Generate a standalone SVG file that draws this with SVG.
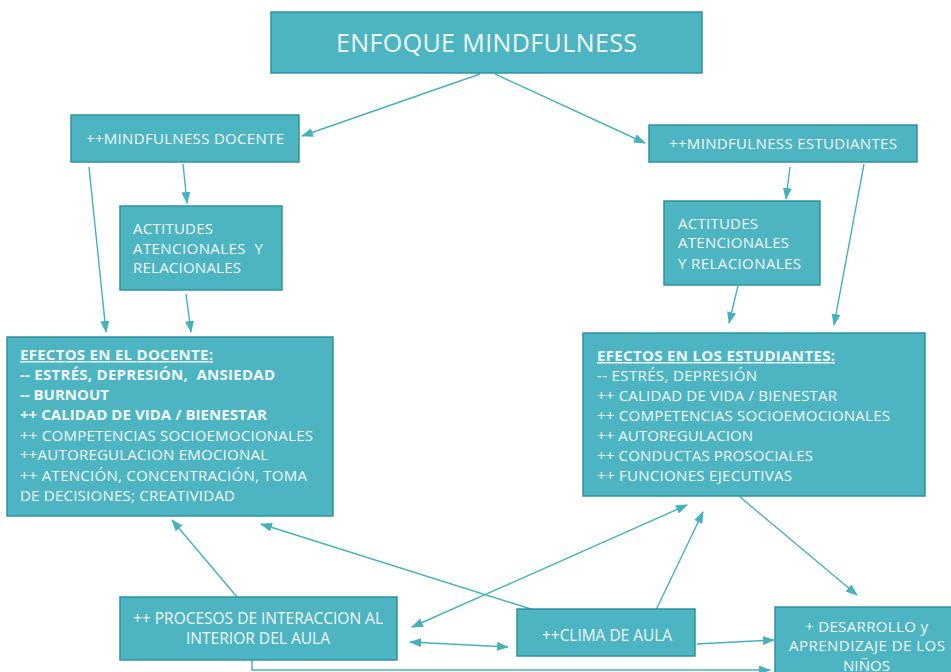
<svg xmlns="http://www.w3.org/2000/svg" width="951" height="672" viewBox="0 0 951 672">
<style>
.box{fill:#4db5c2;stroke:#2f93a0;stroke-width:1.5}
.t{font-family:"Open Sans","Liberation Sans",sans-serif;fill:#f2f7f8;font-size:15px}
.big{font-size:25px}
.cond{font-size:16px}
.b{font-weight:bold}
.con{stroke:#45b1bf;stroke-width:1.4;fill:none}
</style>
<defs>
<marker id="ah" markerUnits="userSpaceOnUse" markerWidth="12" markerHeight="10" refX="11" refY="4.5" orient="auto-start-reverse">
<path d="M0,0 L12,4.5 L0,9 z" fill="#45b1bf"/>
</marker>
</defs>
<rect width="951" height="672" fill="#ffffff"/>
<g id="connectors">
<line class="con" x1="480" y1="74" x2="302" y2="136" marker-end="url(#ah)"/>
<line class="con" x1="495" y1="74" x2="645" y2="143" marker-end="url(#ah)"/>
<line class="con" x1="183" y1="164" x2="187" y2="203" marker-end="url(#ah)"/>
<line class="con" x1="89" y1="167" x2="106" y2="332" marker-end="url(#ah)"/>
<line class="con" x1="790" y1="167" x2="786" y2="199" marker-end="url(#ah)"/>
<line class="con" x1="864" y1="164" x2="834" y2="325" marker-end="url(#ah)"/>
<line class="con" x1="186" y1="294" x2="191" y2="332" marker-end="url(#ah)"/>
<line class="con" x1="738" y1="286" x2="729" y2="323" marker-end="url(#ah)"/>
<line class="con" x1="237" y1="597" x2="172" y2="520" marker-end="url(#ah)"/>
<line class="con" x1="534" y1="610" x2="261" y2="524" marker-end="url(#ah)"/>
<line class="con" x1="412" y1="627" x2="687" y2="505" marker-start="url(#ah)" marker-end="url(#ah)"/>
<line class="con" x1="656" y1="610" x2="703" y2="512" marker-end="url(#ah)"/>
<line class="con" x1="410" y1="642" x2="508" y2="647" marker-start="url(#ah)" marker-end="url(#ah)"/>
<line class="con" x1="697" y1="644" x2="774" y2="640" marker-end="url(#ah)"/>
<line class="con" x1="740" y1="497" x2="857" y2="595" marker-end="url(#ah)"/>
<polyline class="con" points="252,660 252,670 770,670" marker-end="url(#ah)"/>
</g>
<g id="enfoque">
<rect class="box" x="271" y="12" width="431" height="61"/>
<text class="t big" x="336" y="52" textLength="301">ENFOQUE MINDFULNESS</text>
</g>
<g id="mindfulness-docente">
<rect class="box" x="71" y="115" width="228" height="47"/>
<text class="t" x="86" y="144" textLength="198">++MINDFULNESS DOCENTE</text>
</g>
<g id="mindfulness-estudiantes">
<rect class="box" x="649" y="125" width="268" height="37"/>
<text class="t" x="669" y="149" textLength="228">++MINDFULNESS ESTUDIANTES</text>
</g>
<g id="actitudes-docente">
<rect class="box" x="120" y="206" width="162" height="84"/>
<text class="t" x="133" y="234" textLength="80">ACTITUDES</text>
<text class="t" x="133" y="254" textLength="130" xml:space="preserve">ATENCIONALES  Y</text>
<text class="t" x="133" y="273" textLength="108">RELACIONALES</text>
</g>
<g id="actitudes-estudiantes">
<rect class="box" x="664" y="201" width="156" height="84"/>
<text class="t" x="678" y="229" textLength="80">ACTITUDES</text>
<text class="t" x="678" y="248" textLength="111">ATENCIONALES</text>
<text class="t" x="678" y="269" textLength="123">Y RELACIONALES</text>
</g>
<g id="efectos-docente">
<rect class="box" x="7" y="337" width="326" height="179"/>
<text class="t b" x="20" y="360" textLength="193" text-decoration="underline">EFECTOS EN EL DOCENTE:</text>
<text class="t b" x="20" y="380" textLength="255" xml:space="preserve">-- ESTRÉS, DEPRESIÓN,  ANSIEDAD</text>
<text class="t b" x="20" y="400" textLength="89">-- BURNOUT</text>
<text class="t b" x="20" y="420" textLength="247">++ CALIDAD DE VIDA / BIENESTAR</text>
<text class="t" x="20" y="441" textLength="293">++ COMPETENCIAS SOCIOEMOCIONALES</text>
<text class="t" x="20" y="460" textLength="248">++AUTOREGULACION EMOCIONAL</text>
<text class="t" x="20" y="481" textLength="287">++ ATENCIÓN, CONCENTRACIÓN, TOMA</text>
<text class="t" x="20" y="501" textLength="215">DE DECISIONES; CREATIVIDAD</text>
</g>
<g id="efectos-estudiantes">
<rect class="box" x="583" y="333" width="342" height="163"/>
<text class="t b" x="597" y="361" textLength="238" text-decoration="underline">EFECTOS EN LOS ESTUDIANTES:</text>
<text class="t" x="597" y="381" textLength="160">-- ESTRÉS, DEPRESIÓN</text>
<text class="t" x="597" y="401" textLength="240">++ CALIDAD DE VIDA / BIENESTAR</text>
<text class="t" x="597" y="421" textLength="293">++ COMPETENCIAS SOCIOEMOCIONALES</text>
<text class="t" x="597" y="441" textLength="156">++ AUTOREGULACION</text>
<text class="t" x="597" y="461" textLength="216">++ CONDUCTAS PROSOCIALES</text>
<text class="t" x="597" y="481" textLength="195">++ FUNCIONES EJECUTIVAS</text>
</g>
<g id="procesos">
<rect class="box" x="120" y="597" width="277" height="63"/>
<text class="t cond" x="133" y="624" textLength="250" lengthAdjust="spacingAndGlyphs">++ PROCESOS DE INTERACCION AL</text>
<text class="t cond" x="186" y="644" textLength="144" lengthAdjust="spacingAndGlyphs">INTERIOR DEL AULA</text>
</g>
<g id="clima">
<rect class="box" x="517" y="609" width="178" height="47"/>
<text class="t cond" x="542" y="641" textLength="130" lengthAdjust="spacingAndGlyphs">++CLIMA DE AULA</text>
</g>
<g id="desarrollo">
<rect class="box" x="775" y="607" width="180" height="70"/>
<text class="t" x="805" y="632" textLength="123">+ DESARROLLO y</text>
<text class="t" x="789" y="651" textLength="156">APRENDIZAJE DE LOS</text>
<text class="t" x="843" y="671" textLength="47">NIÑOS</text>
</g>
</svg>
